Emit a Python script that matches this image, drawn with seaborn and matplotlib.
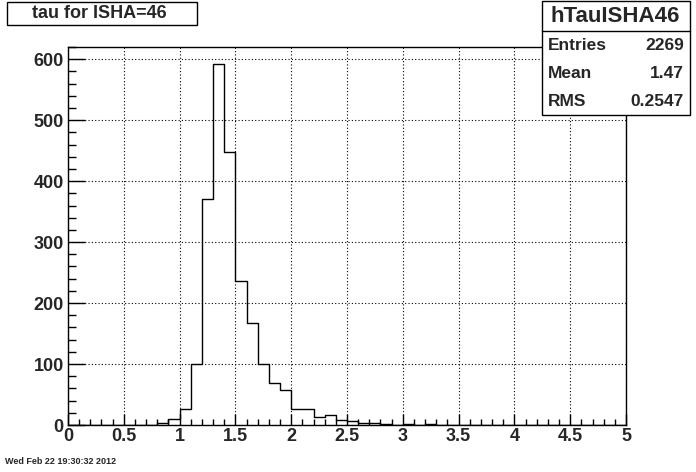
import numpy as np
import pandas as pd
import matplotlib
matplotlib.use("Agg")
import matplotlib.pyplot as plt
import seaborn as sns
from matplotlib.patches import Rectangle
from matplotlib.ticker import MultipleLocator

# bin lower edges (width 0.1) and counts
bin_lo = [0.8, 0.9, 1.0, 1.1, 1.2, 1.3, 1.4, 1.5, 1.6, 1.7, 1.8, 1.9,
          2.0, 2.1, 2.2, 2.3, 2.4, 2.5, 2.6, 2.7, 2.8, 3.0, 3.2]
counts = [3, 10, 27, 100, 370, 592, 447, 237, 167, 100, 69, 57,
          27, 27, 13, 16, 8, 6, 3, 3, 1, 2, 1]
x_ticks = [0, 0.5, 1, 1.5, 2, 2.5, 3, 3.5, 4, 4.5, 5]
x_tick_labels = ["0", "0.5", "1", "1.5", "2", "2.5", "3", "3.5", "4", "4.5", "5"]
y_ticks = [0, 100, 200, 300, 400, 500, 600]

title = "tau for ISHA=46"
stat_name = "hTauISHA46"
stat_rows = [("Entries", "2269"), ("Mean", "1.47"), ("RMS", "0.2547")]
date_text = "Wed Feb 22 19:30:32 2012"

df = pd.DataFrame({"tau": np.array(bin_lo) + 0.05, "n": counts})

sns.set_style("white")
plt.rcParams["font.family"] = ["Liberation Sans", "DejaVu Sans"]
plt.rcParams["font.weight"] = "bold"

fig = plt.figure(figsize=(6.96, 4.72), dpi=100)
ax = fig.add_axes([68 / 696, 1 - 425 / 472, 558 / 696, 378 / 472])

sns.histplot(data=df, x="tau", weights="n", binwidth=0.1, binrange=(0, 5),
             element="step", fill=False, color="black", linewidth=1.0, ax=ax)

ax.set_xlim(0, 5)
ax.set_ylim(0, 620)
ax.set_xlabel("")
ax.set_ylabel("")
ax.set_xticks(x_ticks)
ax.set_xticklabels(x_tick_labels)
ax.set_yticks(y_ticks)
ax.xaxis.set_minor_locator(MultipleLocator(0.1))
ax.yaxis.set_minor_locator(MultipleLocator(20))
ax.tick_params(bottom=True, left=True, which="both")
ax.tick_params(axis="x", which="major", direction="in", length=8, width=1,
               labelsize=13, pad=2, color="black")
ax.tick_params(axis="x", which="minor", direction="in", length=4, width=1, color="black")
ax.tick_params(axis="y", which="major", direction="in", length=12, width=1,
               labelsize=13, pad=3, color="black")
ax.tick_params(axis="y", which="minor", direction="in", length=6, width=1, color="black")
for lab in ax.get_xticklabels() + ax.get_yticklabels():
    lab.set_fontweight("bold")
ax.grid(True, which="major", linestyle=(0, (1, 2)), color="black", linewidth=0.8)
for s in ax.spines.values():
    s.set_color("black")
    s.set_linewidth(1)

# title box
fig.patches.append(Rectangle((7 / 696, 1 - 25 / 472), 190 / 696, 23 / 472,
                             transform=fig.transFigure, fill=False,
                             edgecolor="black", linewidth=1))
fig.text(99 / 696, 1 - 14 / 472, title, ha="center", va="center",
         fontsize=13, fontweight="bold")

# stats box
fig.patches.append(Rectangle((542 / 696, 1 - 115 / 472), 148 / 696, 114 / 472,
                             transform=fig.transFigure, facecolor="white",
                             edgecolor="black", linewidth=1, zorder=5))
fig.lines.append(plt.Line2D([542 / 696, 690 / 696], [1 - 31 / 472, 1 - 31 / 472],
                            transform=fig.transFigure, color="black",
                            linewidth=1, zorder=6))
fig.text(615 / 696, 1 - 16 / 472, stat_name, ha="center", va="center",
         fontsize=16, fontweight="bold", zorder=7)
for i, (k, v) in enumerate(stat_rows):
    yy = 1 - (46 + i * 28) / 472
    fig.text(548 / 696, yy, k, ha="left", va="center", fontsize=12.5,
             fontweight="bold", zorder=7)
    fig.text(684 / 696, yy, v, ha="right", va="center", fontsize=12.5,
             fontweight="bold", zorder=7)

fig.text(5 / 696, 1 - 462 / 472, date_text, ha="left", va="center",
         fontsize=6.5, fontweight="bold")

fig.savefig("out.png", dpi=100)
